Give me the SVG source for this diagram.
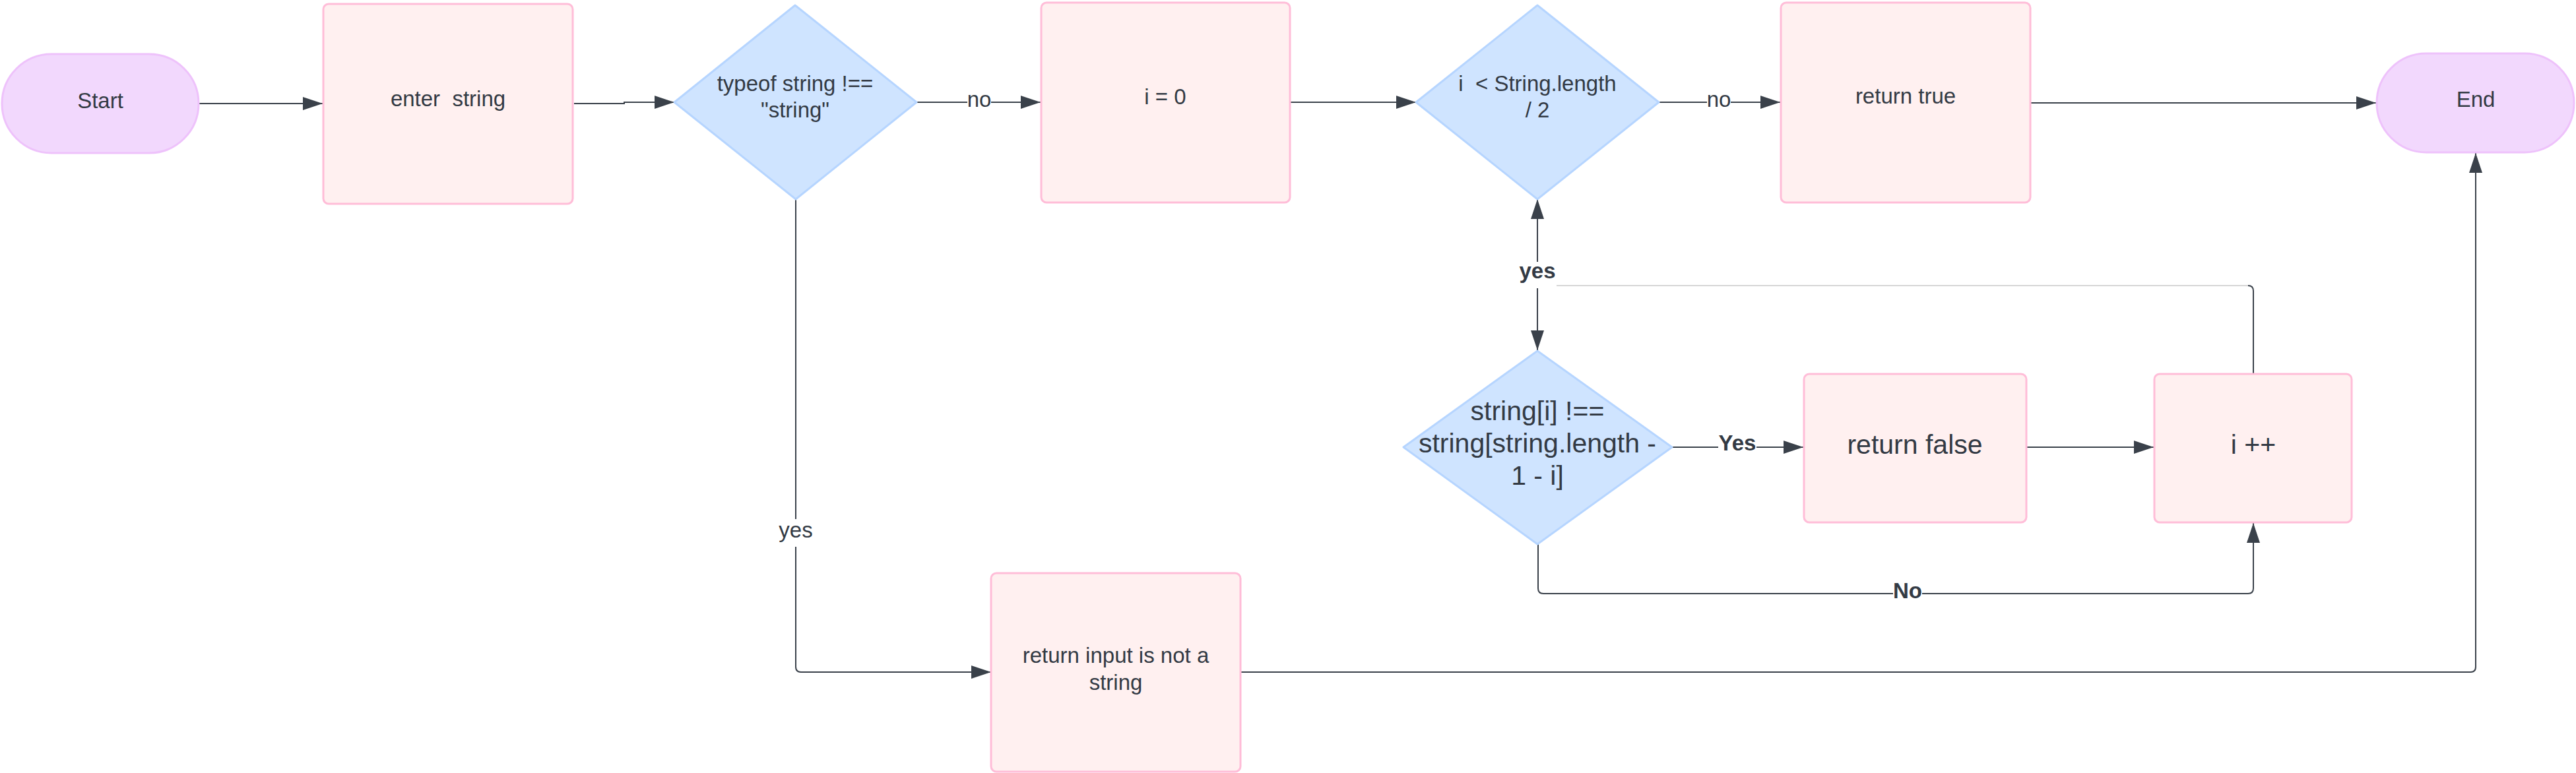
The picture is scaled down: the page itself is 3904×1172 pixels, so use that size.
<svg xmlns="http://www.w3.org/2000/svg" width="3904" height="1172" viewBox="0 0 3904 1172">
<style>
.term{fill:#f2d8fd;stroke:#eec2fb;stroke-width:3}
.proc{fill:#fff0f0;stroke:#ffbdd8;stroke-width:3}
.dec{fill:#cfe4ff;stroke:#b6d5ff;stroke-width:3;stroke-linejoin:round}
.t{font-family:"Liberation Sans",Arial,sans-serif;font-size:33px;fill:#333a44;text-anchor:middle}
.big{font-size:41px}
.b{font-weight:bold}
.c{fill:none;stroke:#3a414a;stroke-width:2}
.g{fill:none;stroke:#c9c9c9;stroke-width:1.5}
.bg{fill:#ffffff}
</style>
<defs>
<marker id="ah" markerUnits="userSpaceOnUse" markerWidth="30" markerHeight="20" refX="30" refY="10" orient="auto">
<path d="M0,0 L30,10 L0,20 z" fill="#3a414a"/>
</marker>
</defs>

<g id="connectors">
<path class="c" d="M302,157 H489" marker-end="url(#ah)"/>
<path class="c" d="M870,157 H946 V155 H1022" marker-end="url(#ah)"/>
<path class="c" d="M1389,155 H1577" marker-end="url(#ah)"/>
<path class="c" d="M1955,155 H2146" marker-end="url(#ah)"/>
<path class="c" d="M2514,155 H2698" marker-end="url(#ah)"/>
<path class="c" d="M3078,156 H3601" marker-end="url(#ah)"/>
<path class="c" d="M1206,302 V1011 Q1206,1019 1214,1019 H1502" marker-end="url(#ah)"/>
<path class="c" d="M1881,1019 H3744 Q3752,1019 3752,1011 V232" marker-end="url(#ah)"/>
<path class="c" d="M3415,566 V441 Q3415,433 3407,433"/>
<path class="g" d="M3407,433 H2330"/>
<path class="c" d="M2330,433 V302" marker-end="url(#ah)"/>
<path class="c" d="M2330,433 V531" marker-end="url(#ah)"/>
<path class="c" d="M2534,678 H2733" marker-end="url(#ah)"/>
<path class="c" d="M3071,678 H3264" marker-end="url(#ah)"/>
<path class="c" d="M2331,825 V892 Q2331,900 2339,900 H3407 Q3415,900 3415,892 V793" marker-end="url(#ah)"/>
<rect class="bg" x="1466" y="135" width="36" height="40"/>
<text class="t" x="1484" y="162">no</text>
<rect class="bg" x="2587" y="135" width="36" height="40"/>
<text class="t" x="2605" y="162">no</text>
<rect class="bg" x="1178" y="787" width="56" height="42"/>
<text class="t" x="1206" y="815">yes</text>
<rect class="bg" x="2301" y="397" width="58" height="40"/>
<text class="t b" x="2330" y="422">yes</text>
<rect class="bg" x="2604" y="658" width="58" height="40"/>
<text class="t b" x="2633" y="683">Yes</text>
<rect class="bg" x="2869" y="880" width="44" height="40"/>
<text class="t b" x="2891" y="907">No</text>
</g>

<g id="start">
<rect class="term" x="3" y="82" width="298" height="150" rx="75" ry="75"/>
<text class="t" x="152" y="164">Start</text>
</g>
<g id="enter-string">
<rect class="proc" x="490" y="6" width="378" height="303" rx="8"/>
<text class="t" x="679" y="161" xml:space="preserve">enter  string</text>
</g>
<g id="typeof-check">
<polygon class="dec" points="1022,155 1205,8 1389,155 1206,302"/>
<text class="t" x="1205" y="138">typeof string !==</text>
<text class="t" x="1205" y="178">"string"</text>
</g>
<g id="i-zero">
<rect class="proc" x="1578" y="4" width="377" height="303" rx="8"/>
<text class="t" x="1766" y="158">i = 0</text>
</g>
<g id="loop-check">
<polygon class="dec" points="2146,155 2330,8 2514,155 2330,302"/>
<text class="t" x="2330" y="138" xml:space="preserve">i  &lt; String.length</text>
<text class="t" x="2330" y="178">/ 2</text>
</g>
<g id="return-true">
<rect class="proc" x="2699" y="4" width="378" height="303" rx="8"/>
<text class="t" x="2888" y="157">return true</text>
</g>
<g id="end">
<rect class="term" x="3602" y="81" width="299" height="150" rx="75" ry="75"/>
<text class="t" x="3752" y="162">End</text>
</g>
<g id="return-not-string">
<rect class="proc" x="1502" y="869" width="378" height="301" rx="8"/>
<text class="t" x="1691" y="1005">return input is not a</text>
<text class="t" x="1691" y="1046">string</text>
</g>
<g id="char-check">
<polygon class="dec" points="2127,678 2330,532 2534,678 2330,825"/>
<text class="t big" x="2330" y="637">string[i] !==</text>
<text class="t big" x="2330" y="686">string[string.length -</text>
<text class="t big" x="2330" y="735">1 - i]</text>
</g>
<g id="return-false">
<rect class="proc" x="2734" y="567" width="337" height="225" rx="8"/>
<text class="t big" x="2902" y="688">return false</text>
</g>
<g id="increment">
<rect class="proc" x="3265" y="567" width="299" height="225" rx="8"/>
<text class="t big" x="3415" y="688">i ++</text>
</g>
</svg>
